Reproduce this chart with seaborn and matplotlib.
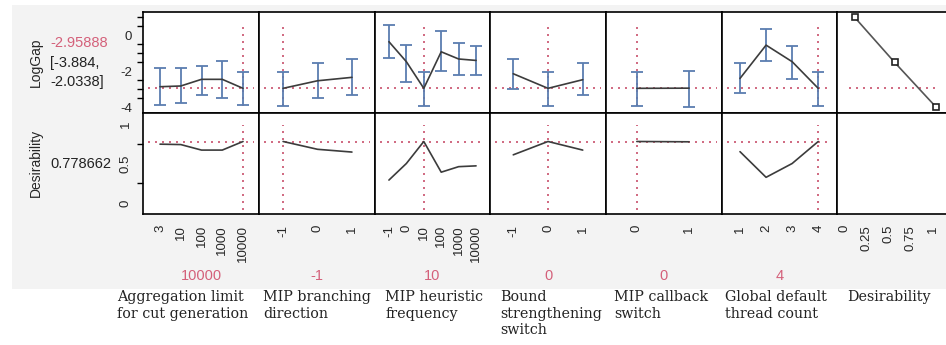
import numpy as np
import matplotlib
matplotlib.use("Agg")
import matplotlib.pyplot as plt
import seaborn as sns
from matplotlib.patches import Rectangle
from matplotlib.ticker import MultipleLocator

sns.set_theme(style="white")
plt.rcParams['font.family'] = ['Liberation Sans', 'DejaVu Sans']

# Profiler data
agg_levels = ["3", "10", "100", "1000", "10000"]
agg_loggap = [-2.87, -2.83, -2.46, -2.46, -2.96]
agg_lo = [-3.90, -3.76, -3.32, -3.50, -3.88]
agg_hi = [-1.85, -1.85, -1.72, -1.44, -2.03]
agg_desir = [0.745, 0.74, 0.67, 0.67, 0.779]

branch_levels = ["-1", "0", "1"]
branch_loggap = [-2.96, -2.54, -2.35]
branch_lo = [-3.94, -3.50, -3.32]
branch_hi = [-2.03, -1.57, -1.31]
branch_desir = [0.779, 0.68, 0.645]

heur_levels = ["-1", "0", "10", "100", "1000", "10000"]
heur_loggap = [-0.37, -1.48, -2.96, -0.93, -1.33, -1.41]
heur_lo = [-1.26, -2.59, -3.94, -2.02, -2.22, -2.22]
heur_hi = [0.54, -0.56, -2.04, 0.22, -0.43, -0.61]
heur_desir = [0.29, 0.50, 0.779, 0.39, 0.46, 0.47]

bound_levels = ["-1", "0", "1"]
bound_loggap = [-2.15, -2.96, -2.48]
bound_lo = [-3.00, -3.93, -3.33]
bound_hi = [-1.33, -2.04, -1.57]
bound_desir = [0.61, 0.779, 0.67]

callback_levels = ["0", "1"]
callback_loggap = [-2.96, -2.95]
callback_lo = [-3.93, -3.98]
callback_hi = [-2.04, -1.98]
callback_desir = [0.779, 0.775]

threads_levels = ["1", "2", "3", "4"]
threads_loggap = [-2.41, -0.56, -1.48, -2.96]
threads_lo = [-3.24, -1.44, -2.44, -3.94]
threads_hi = [-1.57, 0.33, -0.61, -2.03]
threads_desir = [0.65, 0.325, 0.50, 0.779]

desir_fn_x = [0.12, 0.57, 1.04]
desir_fn_y = [0.98, -1.52, -4.02]

factor_names = ["Aggregation limit\nfor cut generation", "MIP branching\ndirection",
                "MIP heuristic\nfrequency", "Bound\nstrengthening\nswitch",
                "MIP callback\nswitch", "Global default\nthread count", "Desirability"]
current_labels = ["10000", "-1", "10", "0", "0", "4"]
current_index = [4, 0, 2, 1, 0, 3]

pred_value = -2.95888
desir_value = 0.778662

factors = [
    (agg_levels, agg_loggap, agg_lo, agg_hi, agg_desir),
    (branch_levels, branch_loggap, branch_lo, branch_hi, branch_desir),
    (heur_levels, heur_loggap, heur_lo, heur_hi, heur_desir),
    (bound_levels, bound_loggap, bound_lo, bound_hi, bound_desir),
    (callback_levels, callback_loggap, callback_lo, callback_hi, callback_desir),
    (threads_levels, threads_loggap, threads_lo, threads_hi, threads_desir),
]

# layout (pixels)
W, H = 946, 345
col_edges = [143, 259, 375, 490, 606, 722, 837, 947]
xlims = [(-0.82, 4.77), (-0.70, 2.67), (-0.80, 5.80), (-0.67, 2.67),
         (-0.59, 1.63), (-0.69, 3.72), (-0.08, 1.16)]
top_ylim = (-4.33, 1.28)
bot_ylim = (-0.14, 1.14)

red = '#c8506c'
red_txt = '#d4607a'
blue = '#5a7db0'
line_col = '#3c3c3c'
dot = (0, (1.2, 3))


def fx(x):
    return x / W


def fy(y):
    return 1 - y / H


fig = plt.figure(figsize=(9.46, 3.45), dpi=100)
fig.patch.set_facecolor('white')
fig.add_artist(Rectangle((fx(12), fy(289)), 1 - fx(12), fy(5) - fy(289),
                         transform=fig.transFigure, facecolor='#f3f3f3',
                         edgecolor='none', zorder=-10))

for i in range(7):
    x0, x1 = col_edges[i], col_edges[i + 1]
    ax_t = fig.add_axes([fx(x0), fy(113), fx(x1) - fx(x0), 101 / H])
    ax_b = fig.add_axes([fx(x0), fy(214), fx(x1) - fx(x0), 101 / H])
    for ax in (ax_t, ax_b):
        ax.set_facecolor('white')
        ax.set_xlim(*xlims[i])
        for s in ax.spines.values():
            s.set_color('black')
            s.set_linewidth(1.2)
        ax.tick_params(direction='out', length=6, width=1, color='black',
                       labelsize=9.5, pad=2)
    ax_t.set_ylim(*top_ylim)
    ax_b.set_ylim(*bot_ylim)

    if i < 6:
        levels, mean, lo, hi, desir = factors[i]
        pos = np.arange(len(levels))
        mean = np.array(mean)
        yerr = [mean - np.array(lo), np.array(hi) - mean]
        ax_t.axhline(pred_value, xmin=0.04, xmax=0.96, color=red, lw=1.2, ls=dot)
        ax_t.axvline(current_index[i], ymin=0.07, ymax=0.89, color=red, lw=1.2, ls=dot)
        ax_b.axhline(desir_value, xmin=0.04, xmax=0.96, color=red, lw=1.2, ls=dot)
        ax_b.axvline(current_index[i], ymin=0.04, ymax=0.88, color=red, lw=1.2, ls=dot)
        ax_t.errorbar(pos, mean, yerr=yerr, fmt='none', ecolor=blue,
                      elinewidth=1.3, capsize=4, capthick=1.3)
        sns.lineplot(x=pos, y=mean, ax=ax_t, color=line_col, linewidth=1.2)
        sns.lineplot(x=pos, y=desir, ax=ax_b, color=line_col, linewidth=1.2)
        ax_b.set_xticks(pos)
        ax_b.set_xticklabels(levels, rotation=90)
    else:
        ax_t.hlines(pred_value, 0.056, 1.02, color=red, lw=1.2, ls=dot)
        sns.lineplot(x=desir_fn_x, y=desir_fn_y, ax=ax_t, color='#555555',
                     linewidth=1.2, marker='s', markersize=5,
                     markerfacecolor='white', markeredgecolor='#222222',
                     markeredgewidth=1.2)
        ax_b.set_xticks([0, 0.25, 0.5, 0.75, 1])
        ax_b.set_xticklabels(["0", "0.25", "0.5", "0.75", "1"], rotation=90)

    ax_t.set_xticks([])
    ax_t.set_xlabel('')
    ax_b.set_xlabel('')
    ax_t.set_ylabel('')
    ax_b.set_ylabel('')
    if i == 0:
        ax_t.set_yticks([-4, -2, 0])
        ax_t.set_yticklabels(["-4", "-2", "0"])
        ax_t.yaxis.set_minor_locator(MultipleLocator(0.5))
        ax_t.tick_params(which='minor', direction='out', length=4, width=1,
                         color='black', left=True)
        ax_b.set_yticks([0, 0.5, 1])
        ax_b.set_yticklabels(["0", "0.5", "1"], rotation=90, va='center')
        ax_b.yaxis.set_minor_locator(MultipleLocator(0.25))
        ax_b.tick_params(which='minor', direction='out', length=4, width=1,
                         color='black', left=True)
    else:
        ax_t.set_yticks([])
        ax_b.set_yticks([])

# left-hand response labels
fig.text(fx(36), fy(62), "LogGap", rotation=90, ha='center', va='center', fontsize=10)
fig.text(fx(50), fy(43), "-2.95888", color=red_txt, ha='left', va='center', fontsize=10.5)
fig.text(fx(50), fy(63), "[-3.884,", ha='left', va='center', fontsize=10.5, color='#222222')
fig.text(fx(50), fy(82), "-2.0338]", ha='left', va='center', fontsize=10.5, color='#222222')
fig.text(fx(36), fy(163), "Desirability", rotation=90, ha='center', va='center', fontsize=10)
fig.text(fx(50), fy(164), "0.778662", ha='left', va='center', fontsize=10.5, color='#222222')

# current factor settings and factor names
name_left = [117, 263, 385, 500, 614, 725, 847]
for i in range(7):
    if i < 6:
        cx = (col_edges[i] + col_edges[i + 1]) / 2
        fig.text(fx(cx), fy(276), current_labels[i], color=red_txt, ha='center',
                 va='center', fontsize=10.5)
    fig.text(fx(name_left[i]), fy(290), factor_names[i], ha='left', va='top',
             family='DejaVu Serif', fontsize=10.3, linespacing=1.25, color='#222222')

fig.savefig("out.png", dpi=100, facecolor=fig.get_facecolor())
